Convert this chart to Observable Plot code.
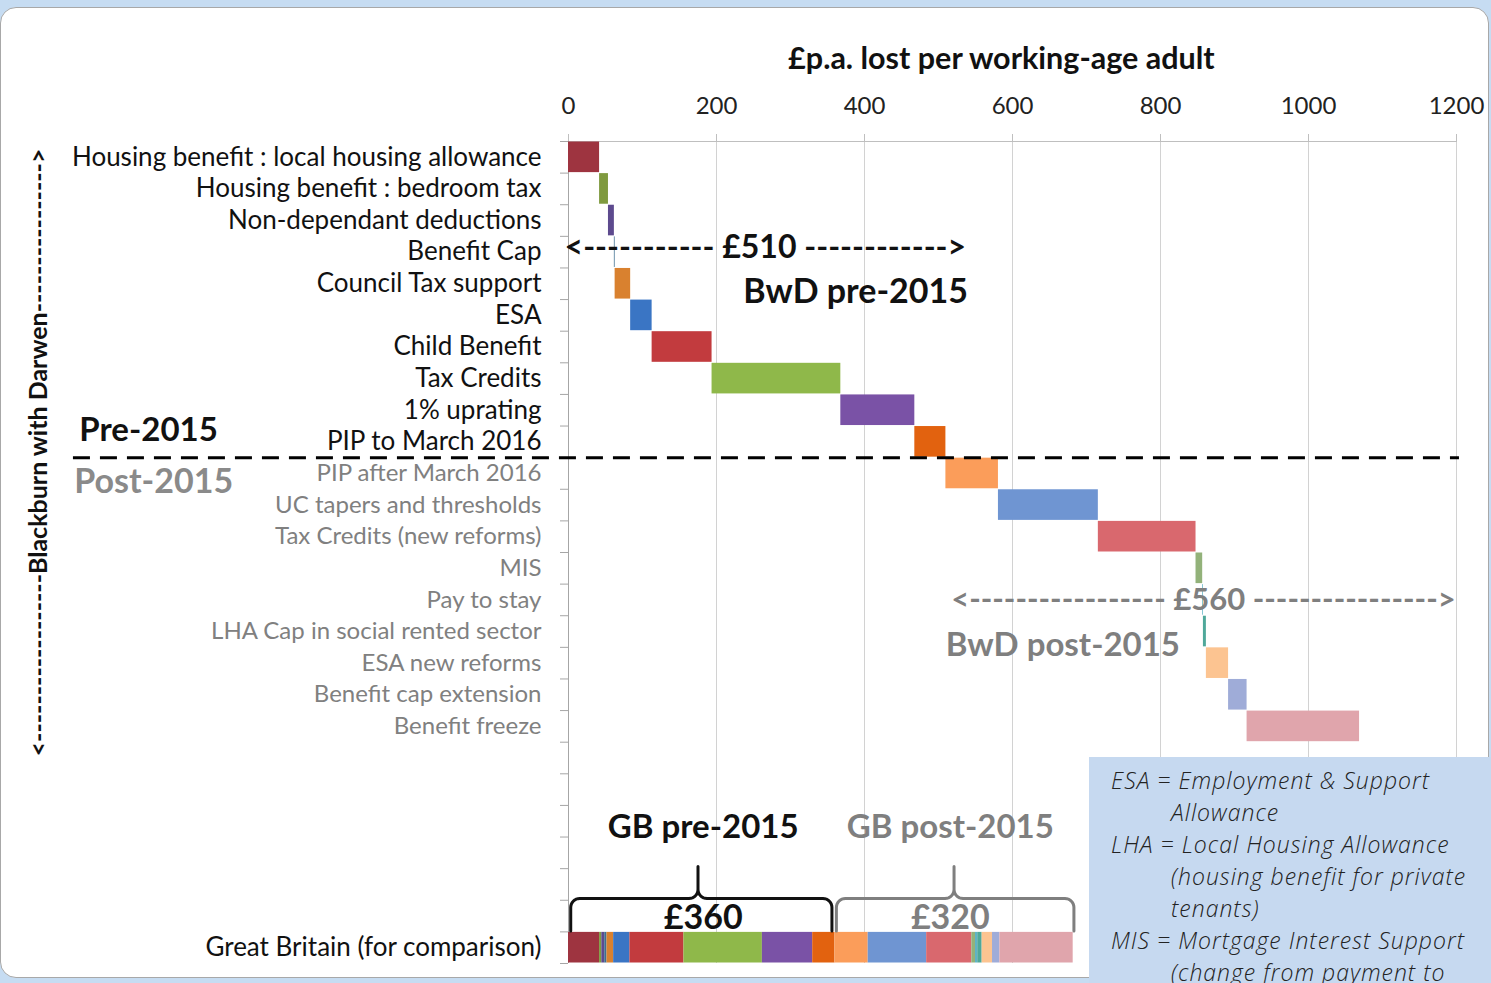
<!DOCTYPE html>
<html><head><meta charset="utf-8">
<script src="https://cdn.jsdelivr.net/npm/d3@7"></script>
<script src="https://cdn.jsdelivr.net/npm/@observablehq/plot@0.6"></script>
<style>
body{margin:0;background:#c6dcf2;width:1491px;height:983px;overflow:hidden;position:relative;font-family:Lato,sans-serif}
#card{position:absolute;left:0;top:7px;width:1489px;height:971px;background:#fff;border:1px solid #a8a8a8;border-radius:16px;box-sizing:border-box}
#chart{position:absolute;left:0;top:0}
#notes{position:absolute;left:1089px;top:757px;width:402px;height:226px;background:#c6d9f0;font-family:"Open Sans",sans-serif;font-style:italic;font-weight:300;font-size:23px;letter-spacing:1px;line-height:32px;color:#222;padding:7px 0 0 22px;box-sizing:border-box;overflow:hidden;white-space:nowrap}
#notes .in{padding-left:60px}
</style></head><body>
<div id="card"></div>
<div id="chart"></div>
<div id="notes">
<div>ESA = Employment &amp; Support</div>
<div class="in">Allowance</div>
<div>LHA = Local Housing Allowance</div>
<div class="in">(housing benefit for private</div>
<div class="in">tenants)</div>
<div>MIS = Mortgage Interest Support</div>
<div class="in">(change from payment to</div>
</div>
<script>
// ---- data ----
const preLabels = ["Housing benefit : local housing allowance","Housing benefit : bedroom tax","Non-dependant deductions","Benefit Cap","Council Tax support","ESA","Child Benefit","Tax Credits","1% uprating","PIP to March 2016"];
const postLabels = ["PIP after March 2016","UC tapers and thresholds","Tax Credits (new reforms)","MIS","Pay to stay","LHA Cap in social rented sector","ESA new reforms","Benefit cap extension","Benefit freeze"];
const gbLabel = "Great Britain (for comparison)";
const xTitle = "£p.a. lost per working-age adult";
const bwdPre = [42, 12, 8, 1, 21, 29, 81, 174, 100, 42];
const bwdPost = [71, 135, 132, 9, 1, 4, 30, 25, 152];
const gbPre = [42, 3, 4, 3, 9, 22, 73, 106, 68, 30];
const gbPost = [45, 79, 61, 5, 3, 6, 14, 10, 99];
const preColors = ["#9e3440","#7f9a3f","#5d4a8e","#3c6e8f","#d9812f","#3a75c4","#c23b3e","#8fb84a","#7a52a6","#e2620f"];
const postColors = ["#fb9d5a","#6f95d2","#d9686e","#93b27a","#5fb3c6","#4fa89a","#fcc491","#9facd8","#e0a5ac"];
const xTicks = [0, 200, 400, 600, 800, 1000, 1200];
const blankRows = 6;

// ---- derived ----
const labels = [...preLabels, ...postLabels];
const colors = [...preColors, ...postColors];
const bwdVals = [...bwdPre, ...bwdPost];
let acc = 0;
const bwdRows = labels.map((name, i) => { const s = acc; acc += bwdVals[i]; return {name, row: i + 1, x1: s, x2: acc, fill: colors[i], post: i >= preLabels.length}; });
const gbRowIdx = labels.length + blankRows + 1;
const nRows = gbRowIdx;
let g = 0;
const gbSegs = [...gbPre, ...gbPost].map((v, i) => { const s = g; g += v; return {x1: s, x2: g, fill: colors[i]}; });
const r10 = v => Math.round(v / 10) * 10;
const preTot = d3.sum(bwdPre), postTot = d3.sum(bwdPost);
const gbPreTot = d3.sum(gbPre), gbPostTot = d3.sum(gbPost);

const W = 1491, H = 983, mT = 141, mL = 568, mR = 35, mB = 20;
const kx = (W - mL - mR) / 1200;      // px per £
const ky = (H - mT - mB) / nRows;     // px per row
const pyToRow = py => (py - mT) / ky;

function brace(xa, xb, xm, id) {
  const r = 9, rx = r / kx, ry = r / ky;
  const yEnd = gbRowIdx - 1 - 0.03, yBase = pyToRow(898), yTip = pyToRow(866);
  const pts = [];
  const P = (x, y) => pts.push({x, y, id});
  P(xa, yEnd);
  for (let i = 0; i <= 8; i++) { const t = i / 8 * Math.PI / 2; P(xa + rx - rx * Math.cos(t), yBase + ry - ry * Math.sin(t)); }
  for (let i = 0; i <= 8; i++) { const t = i / 8 * Math.PI / 2; P(xm - rx + rx * Math.sin(t), yBase - ry + ry * Math.cos(t)); }
  P(xm, yTip);
  for (let i = 0; i <= 8; i++) { const t = i / 8 * Math.PI / 2; P(xm + rx - rx * Math.cos(t), yBase - ry + ry * Math.sin(t)); }
  for (let i = 0; i <= 8; i++) { const t = i / 8 * Math.PI / 2; P(xb - rx + rx * Math.sin(t), yBase + ry - ry * Math.cos(t)); }
  P(xb, yEnd);
  return pts;
}
const bracePre = brace(3, gbPreTot - 4, gbPreTot / 2 - 5, "pre");
const bracePost = brace(gbPreTot + 2, gbPreTot + gbPostTot + 1, gbPreTot + gbPostTot / 2, "post");

const grey = "#7f7f7f";
const T = (x, y, text, o) => Plot.text([0], {x: () => x, y: () => y, text: () => text, ...o});

const chart = Plot.plot({
  width: W, height: H, marginTop: mT, marginLeft: mL, marginRight: mR, marginBottom: mB,
  style: {fontFamily: "Lato, sans-serif", background: "transparent", overflow: "visible"},
  x: {domain: [0, 1200], axis: null},
  y: {domain: [0, nRows], reverse: true, axis: null},
  color: {type: "identity"},
  marks: [
    Plot.gridX(xTicks, {stroke: "#d2d2d2", strokeOpacity: 1, strokeWidth: 1}),
    Plot.axisX(xTicks, {anchor: "top", tickSize: 8, tickPadding: 20, fontSize: 24, stroke: "#bfbfbf", fill: "#222", label: null, tickFormat: d => String(d)}),
    Plot.ruleY([0], {stroke: "#bfbfbf"}),
    Plot.axisY(d3.range(0, nRows + 1), {anchor: "left", tickSize: 8, tickFormat: () => "", stroke: "#a6a6a6", label: null}),
    Plot.ruleX([0], {stroke: "#a6a6a6"}),
    T(585, pyToRow(59), xTitle, {fontSize: 30.5, fontWeight: "bold", fill: "#111"}),
    Plot.rect(bwdRows, {x1: "x1", x2: "x2", y1: d => d.row - 1, y2: d => d.row, fill: "fill", insetTop: 0.5, insetBottom: 0.5}),
    Plot.rect(gbSegs, {x1: "x1", x2: "x2", y1: gbRowIdx - 1, y2: gbRowIdx, fill: "fill", insetTop: 0.5, insetBottom: 0.5}),
    Plot.text(bwdRows.filter(d => !d.post), {y: d => d.row - 0.5, text: "name", frameAnchor: "left", textAnchor: "end", dx: -27, fontSize: 26, fill: "#111"}),
    Plot.text(bwdRows.filter(d => d.post), {y: d => d.row - 0.5, text: "name", frameAnchor: "left", textAnchor: "end", dx: -27, fontSize: 24, fill: "#808080"}),
    Plot.text([gbLabel], {y: gbRowIdx - 0.5, text: d => d, frameAnchor: "left", textAnchor: "end", dx: -27, fontSize: 26, fill: "#111"}),
    Plot.ruleY([preLabels.length], {x1: -669, x2: 1204, stroke: "#000", strokeWidth: 3, strokeDasharray: "17,10"}),
    T(-661, pyToRow(430), "Pre-2015", {textAnchor: "start", fontSize: 33, fontWeight: "bold", fill: "#111"}),
    T(-668, pyToRow(482), "Post-2015", {textAnchor: "start", fontSize: 34, fontWeight: "bold", fill: "#8a8a8a"}),
    T(-716, pyToRow(452), "<------------------Blackburn with Darwen---------------->", {rotate: -90, fontSize: 25, fontWeight: "bold", fill: "#111"}),
    T(266, pyToRow(247), `<----------- £${r10(preTot)} ------------>`, {fontSize: 32, fontWeight: "bold", fill: "#111"}),
    T(388, pyToRow(292), "BwD pre-2015", {fontSize: 34, fontWeight: "bold", fill: "#111"}),
    T(858, pyToRow(600), `<----------------- £${r10(postTot)} ---------------->`, {fontSize: 31, fontWeight: "bold", fill: grey}),
    T(668, pyToRow(645), "BwD post-2015", {fontSize: 33, fontWeight: "bold", fill: grey}),
    T(gbPreTot / 2 + 2, pyToRow(827), "GB pre-2015", {fontSize: 33, fontWeight: "bold", fill: "#111"}),
    T(gbPreTot + gbPostTot / 2 - 5, pyToRow(827), "GB post-2015", {fontSize: 33, fontWeight: "bold", fill: grey}),
    Plot.line(bracePre, {x: "x", y: "y", stroke: "#111", strokeWidth: 3}),
    Plot.line(bracePost, {x: "x", y: "y", stroke: grey, strokeWidth: 3}),
    T(gbPreTot / 2 + 2, pyToRow(918), `£${r10(gbPreTot)}`, {fontSize: 34, fontWeight: "bold", fill: "#111"}),
    T(gbPreTot + gbPostTot / 2 - 5, pyToRow(918), `£${r10(gbPostTot)}`, {fontSize: 34, fontWeight: "bold", fill: grey})
  ]
});
document.getElementById("chart").append(chart);
</script>
</body></html>
